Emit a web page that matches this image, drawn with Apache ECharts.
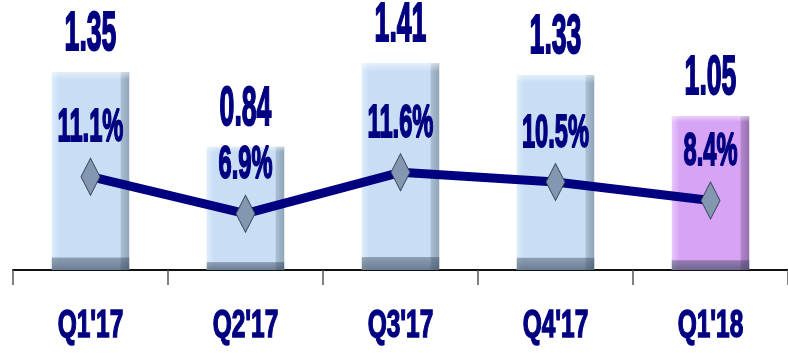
<!DOCTYPE html>
<html>
<head>
<meta charset="utf-8">
<script src="https://cdn.jsdelivr.net/npm/echarts@6/dist/echarts.min.js"></script>
<style>
  html, body { margin: 0; padding: 0; background: #fff; }
  #chart { width: 788px; height: 353px; }
</style>
</head>
<body>
<div id="chart"></div>
<script>
// 数据
const categories = ["Q1'17", "Q2'17", "Q3'17", "Q4'17", "Q1'18"];
const barValues = [1.35, 0.84, 1.41, 1.33, 1.05];
const pctValues = [11.1, 6.9, 11.6, 10.5, 8.4];
const highlightCategory = "Q1'18";

const NAVY = '#000080';
const FONT = '"Liberation Sans", Arial, sans-serif';

// 拉伸文字（原图为窄体、纵向拉高的粗体）
function stretchedText(x, y, text, size, sx, sy) {
    return {
        type: 'text',
        x: x,
        y: y,
        scaleX: sx,
        scaleY: sy,
        style: {
            text: text,
            fill: NAVY,
            font: 'bold ' + size + 'px ' + FONT,
            align: 'center',
            verticalAlign: 'middle',
            stroke: NAVY,
            lineWidth: 1.3
        }
    };
}

function hGrad(light, body, edge, dark) {
    return new echarts.graphic.LinearGradient(0, 0, 1, 0, [
        { offset: 0, color: light },
        { offset: 0.1, color: body },
        { offset: 0.88, color: body },
        { offset: 0.9, color: edge },
        { offset: 1, color: dark }
    ]);
}

const blueFill = hGrad('#dcecfb', '#c8def5', '#a9bdd2', '#8fa4b9');
const purpleFill = hGrad('#e8c8fb', '#d6a3f5', '#b184cc', '#9670ad');

const bevelOverlay = new echarts.graphic.LinearGradient(0, 0, 0, 1, [
    { offset: 0, color: 'rgba(255,255,255,0.5)' },
    { offset: 0.04, color: 'rgba(255,255,255,0)' },
    { offset: 0.935, color: 'rgba(0,0,0,0)' },
    { offset: 0.94, color: 'rgba(45,60,80,0.4)' },
    { offset: 1, color: 'rgba(45,60,80,0.6)' }
]);

const chart = echarts.init(document.getElementById('chart'));

const option = {
    animation: false,
    grid: { left: 13, right: 0, top: 50, bottom: 83 },
    xAxis: {
        type: 'category',
        data: categories,
        axisLine: { show: true, lineStyle: { color: '#111', width: 2 } },
        axisTick: { show: true, length: 15, lineStyle: { color: '#555', width: 1.5 } },
        axisLabel: { show: false }
    },
    yAxis: [
        { type: 'value', min: 0, max: 1.5, show: false, splitLine: { show: false } },
        { type: 'value', min: 0.5, max: 25.5, show: false, splitLine: { show: false } }
    ],
    series: [
        {
            type: 'bar',
            barWidth: '50%',
            data: barValues.map((v, i) => ({
                value: v,
                itemStyle: { color: categories[i] === highlightCategory ? purpleFill : blueFill }
            }))
        },
        {
            type: 'bar',
            barWidth: '50%',
            barGap: '-100%',
            silent: true,
            itemStyle: { color: bevelOverlay },
            data: barValues
        },
        {
            type: 'line',
            yAxisIndex: 1,
            data: pctValues,
            z: 5,
            lineStyle: { color: NAVY, width: 9 },
            symbol: 'diamond',
            symbolSize: [19, 37],
            itemStyle: { color: '#8497b0', borderColor: '#3a4558', borderWidth: 1 }
        },
        {
            // 柱顶数值
            type: 'custom',
            clip: false,
            z: 10,
            data: barValues.map((v, i) => [i, v]),
            renderItem: function(params, api) {
                const p = api.coord([api.value(0), api.value(1)]);
                return stretchedText(p[0], p[1] - 37, barValues[params.dataIndex].toFixed(2), 36, 0.74, 1.52);
            }
        },
        {
            // 百分比
            type: 'custom',
            yAxisIndex: 1,
            clip: false,
            z: 10,
            data: pctValues.map((v, i) => [i, v]),
            renderItem: function(params, api) {
                const p = api.coord([api.value(0), api.value(1)]);
                return stretchedText(p[0], p[1] - 48, pctValues[params.dataIndex].toFixed(1) + '%', 32, 0.74, 1.42);
            }
        },
        {
            // 类目标签
            type: 'custom',
            clip: false,
            z: 10,
            data: categories.map((c, i) => [i, 0]),
            renderItem: function(params, api) {
                const p = api.coord([api.value(0), 0]);
                return stretchedText(p[0], p[1] + 56, categories[params.dataIndex], 34, 0.72, 1.12);
            }
        }
    ]
};

chart.setOption(option);
window.addEventListener('resize', () => chart.resize());
</script>
</body>
</html>
